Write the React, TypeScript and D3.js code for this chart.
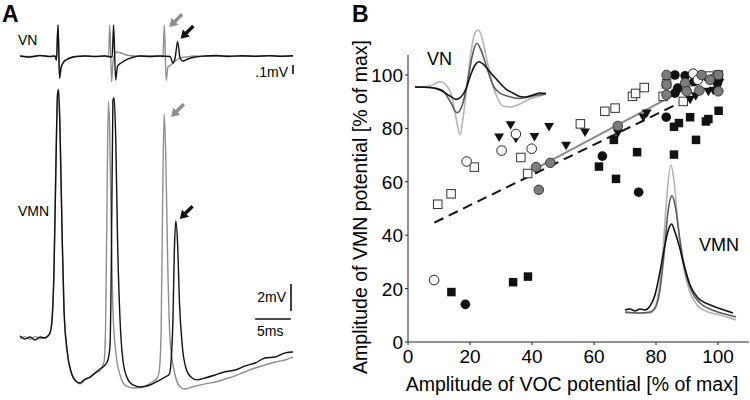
import React from "react";
import * as d3 from "d3";

// ---------- panel A traces: [time ms, value] ----------
// VN recording, values in µV
const vnBlack: [number, number][] = [
  [0, 0], [1.4, -11], [2.8, 6], [4.2, -6], [4.9, 0], [5.1, -44], [5.32, 344], [5.53, -244],
  [5.74, -133], [6.02, -78], [6.44, -44], [7.0, -22], [7.84, -6], [9.1, 0], [10.5, -6], [11.9, 0],
  [12.9, -11], [13.1, 344], [13.38, -267], [13.65, -111], [14.15, -78], [14.85, -44], [15.7, -17],
  [16.8, 0], [18.2, -6], [19.6, 0], [21.0, -6], [21.4, -78], [21.7, -22], [22.06, 159], [22.4, -22],
  [22.8, -56], [23.5, -33], [24.5, -11], [25.9, 0], [27.5, 5], [29, -5], [31, 3], [33, -4], [35, 4],
  [36.5, -3], [38.2, 2],
];
const vnGray: [number, number][] = [
  [0, 0], [1.4, -6], [2.8, 4], [4.2, -4], [4.9, 0], [5.1, -44], [5.32, 344], [5.53, -244],
  [5.74, -133], [6.02, -78], [6.44, -44], [7.0, -22], [7.84, -6], [9.1, 0], [10.5, -4], [11.9, 2],
  [12.4, -11], [12.56, 344], [12.82, -285], [13.0, -67], [13.45, 44], [14.15, 33], [14.85, 11],
  [16.1, 0], [18.2, 0], [19.6, 0], [20.0, -11], [20.2, 344], [20.45, -274], [20.7, -122], [21.1, -100],
  [21.7, -56], [22.4, -22], [23.2, -11], [24.5, 0], [27, -3], [29, 4], [31.5, -3], [34, 3], [36, -2],
  [38.2, 1],
];
// VMN recording, values in mV
const vmnBlack: [number, number][] = [
  [0, 0.15], [0.7, -0.07], [1.4, 0.07], [2.1, -0.15], [2.8, 0.07], [3.5, 0], [3.9, 0.15], [4.2, 0.37],
  [4.48, 1.33], [4.76, 5.04], [5.04, 13.2], [5.25, 18.0], [5.39, 18.4], [5.6, 15.4], [5.88, 8.0],
  [6.16, 2.07], [6.58, -0.89], [7.14, -2.5], [7.84, -3.2], [8.4, -3.33], [9.1, -3.04], [9.8, -2.9],
  [10.5, -2.6], [11.2, -2.3], [11.9, -2.0], [12.3, -1.63], [12.6, -0.52], [12.8, 6.5], [13.0, 17.6],
  [13.17, 17.8], [13.4, 14.7], [13.65, 7.26], [14.0, 1.33], [14.4, -1.63], [15.0, -2.96], [15.8, -3.48],
  [16.8, -3.63], [18.2, -3.48], [19.6, -3.1], [20.3, -2.9], [20.9, -2.67], [21.1, -2.0], [21.4, 1.33],
  [21.6, 6.5], [21.8, 8.67], [22.06, 6.9], [22.3, 2.8], [22.7, -0.52], [23.2, -2.2], [23.95, -2.9],
  [24.8, -3.1], [25.9, -2.96], [27.3, -2.74], [28.7, -2.5], [30.1, -2.37], [31.5, -2.07], [32.9, -1.85],
  [34.3, -1.48], [35.7, -1.41], [37.1, -1.1], [38.2, -1.04],
];
const vmnGray: [number, number][] = [
  [0, -0.05], [0.7, 0.1], [1.4, -0.1], [2.1, 0.1], [2.8, -0.05], [3.5, 0.05], [3.9, 0.15], [4.2, 0.37],
  [4.48, 1.33], [4.76, 5.04], [5.04, 13.2], [5.25, 18.0], [5.39, 18.4], [5.6, 15.4], [5.88, 8.0],
  [6.16, 2.07], [6.58, -0.89], [7.14, -2.5], [7.84, -3.2], [8.4, -3.4], [9.1, -3.1], [9.8, -2.9],
  [10.5, -2.6], [11.2, -2.4], [11.76, -1.78], [11.97, 0.6], [12.18, 10.2], [12.36, 17.5], [12.53, 15.8],
  [12.75, 8.74], [13.0, 2.07], [13.45, -1.26], [14.0, -2.74], [14.85, -3.56], [16.1, -3.7], [17.5, -3.56],
  [18.5, -3.26], [19.2, -2.96], [19.5, -2.37], [19.75, 0.6], [19.96, 10.2], [20.17, 16.6], [20.38, 13.9],
  [20.66, 5.8], [21.0, -0.15], [21.6, -2.5], [22.3, -3.56], [23.0, -3.78], [24.1, -3.63], [25.9, -3.4],
  [27.3, -3.26], [28.7, -3.04], [30.1, -2.8], [31.5, -2.5], [32.9, -2.22], [34.3, -2.0], [35.7, -1.78],
  [37.1, -1.63], [38.2, -1.41],
];

// ---------- panel B scatter: [VOC %, VMN %] ----------
const openSquares: [number, number][] = [
  [13.9, 55.5], [9.6, 51.6], [21.4, 65.5], [36.4, 69.1], [38.6, 63.1], [55.6, 81.7], [63.5, 86.4],
  [66.8, 87.6], [72.4, 92], [73.4, 93.1], [76.2, 95.3], [82.3, 92], [83.4, 96.7], [88.8, 90.1],
  [100.1, 100], [97, 99.6], [99, 98.5],
];
const openCircles: [number, number][] = [
  [8.4, 23.2], [18.9, 67.6], [30.2, 71.7], [34.8, 77.9], [39.9, 72.4], [92, 100.5], [93.5, 98.2],
];
const blackTriangles: [number, number][] = [
  [29.4, 77], [33.1, 81.6], [34.8, 76.6], [40.8, 77.2], [45.5, 81], [51, 73.9], [57.1, 78.9],
  [67.7, 78.6], [75.9, 84.5], [77, 86], [91, 91.2], [92.8, 92.5], [96.9, 94.2], [98.5, 94.5],
  [100.5, 97.5],
];
const blackSquares: [number, number][] = [
  [14, 18.7], [33.9, 22.4], [38.7, 24.5], [61.6, 65.7], [66.4, 75.7], [67.1, 61.1], [73.9, 71.1],
  [85.8, 80.6], [87.4, 82], [91, 84.2], [85.8, 70.2], [92.9, 75.7], [96.1, 82.6], [96.9, 83.5],
  [100.2, 86.6],
];
const blackCircles: [number, number][] = [
  [18.5, 14.1], [62.7, 69.6], [74.4, 56.1], [83.3, 84.2], [86.1, 100], [89.4, 99.7], [87, 95.1],
  [86.1, 93.2], [92.3, 97.5], [99.8, 97],
];
const grayCircles: [number, number][] = [
  [41.3, 65.5], [45.9, 67.1], [42.2, 57], [67.7, 80.9], [83.4, 100], [83.4, 96.4], [83.4, 92.6],
  [89.4, 97], [89.9, 93.9], [94, 94.2], [100.1, 93.9], [94.7, 100], [97.4, 98.2], [100.1, 100],
];
const dashedFit: [number, number][] = [[8.5, 44.7], [96, 94.3]];
const grayFit: [number, number][] = [[40.4, 64.5], [100.1, 101.4]];
const xTicks = [0, 20, 40, 60, 80, 100];
const yTicks = [0, 20, 40, 60, 80, 100];

// ---------- insets (normalised: t 0-100, amplitude % of largest) ----------
const insetVN = {
  light: [[0, 0.5], [11.4, 2.3], [18.9, 9.8], [24.2, 2.3], [28, -17], [31.1, -53.6], [34.1, -83], [36.4, -53.6],
    [39.4, 4], [42.4, 61.6], [45.5, 94.8], [48, 100], [50.8, 86], [54.5, 47.6], [58.3, 9.3], [62.1, -17],
    [66.7, -32.6], [72, -34.4], [79.5, -29], [87, -20.4], [94.7, -15.2], [99.2, -11.7]],
  dark: [[0, 0.5], [11.4, -0.3], [20.5, -4.7], [26.5, -24], [31.8, -44.3], [35.6, -32.6], [39.4, 4],
    [43.2, 52.9], [46.7, 76.8], [50, 65], [54.5, 33.7], [59.8, 0.5], [64.4, -10], [69.7, -15], [79.5, -19.5],
    [89.4, -15], [99.2, -11.7]],
  black: [[0, 0.5], [11.4, -0.3], [18.9, -4.7], [26.5, -15.2], [31.1, -21], [34.8, -17], [38.6, -3],
    [42.4, 23.2], [45.5, 39], [48.5, 44.7], [51.5, 40.7], [56.8, 26.7], [62.9, 11], [68.9, -3], [74.2, -10],
    [79.5, -16], [84, -17], [89.4, -13.4], [94.7, -10], [99.2, -10.8]],
} as Record<string, [number, number][]>;
const insetVMN = {
  light: [[0, -0.7], [13.5, -0.7], [22.5, -0.7], [27, 2.7], [30.6, 15], [34.2, 42.2], [37.8, 79.6], [41.2, 100],
    [44.1, 89.8], [47.7, 59.2], [52.3, 32], [57.7, 15], [64.9, 4.8], [74.8, 0], [85.6, -2], [94.6, -4], [100, -5.4]],
  dark: [[0, 0], [13.5, -0.7], [22.5, 0], [27.9, 4], [31.5, 15], [35.1, 38.8], [38.7, 68], [42.3, 79],
    [45.9, 69.4], [49.5, 49], [54, 28.6], [59.5, 15], [67.6, 6.1], [78.4, 1.4], [90, -1.4], [100, -3.4]],
  black: [[0, 1.4], [4.5, 2], [9, 0.7], [13.5, 2], [18, 1.4], [22.5, 4], [27, 11.6], [31.5, 27.2], [36, 45.6],
    [39.6, 57.1], [42, 59.9], [45, 54.4], [48.6, 45.6], [53.2, 32], [58.6, 18.4], [65.8, 9.5], [74.8, 5.4],
    [83.8, 2.7], [91.9, 0.7], [97.3, -0.7]],
} as Record<string, [number, number][]>;
const insetColors: Record<string, string> = { light: "#b4b4b4", dark: "#5a5a5a", black: "#111" };

const FONT = "'Liberation Sans', Arial, Helvetica, sans-serif";

function Arrow({ x, y, color }: { x: number; y: number; color: string }) {
  // tip at (x,y), tail to the upper right
  return (
    <path
      d="M0,0 L8,-5 L8,-1.7 L18,-1.7 L18,1.7 L8,1.7 L8,5 Z"
      transform={`translate(${x},${y}) rotate(-45)`}
      fill={color}
    />
  );
}

export default function App() {
  // panel A scales
  const t = d3.scaleLinear().domain([0, 38.2]).range([20, 293]);
  const vn = d3.scaleLinear().domain([0, 100]).range([56, 47]);
  const vmn = d3.scaleLinear().domain([0, 2]).range([338, 311]);
  const lineVN = d3.line<[number, number]>().x((d) => t(d[0])).y((d) => vn(d[1])).curve(d3.curveMonotoneX);
  const lineVMN = d3.line<[number, number]>().x((d) => t(d[0])).y((d) => vmn(d[1])).curve(d3.curveMonotoneX);

  // panel B scales
  const x = d3.scaleLinear().domain([0, 100]).range([408, 718]);
  const y = d3.scaleLinear().domain([0, 100]).range([342, 75]);
  const fit = d3.line<[number, number]>().x((d) => x(d[0])).y((d) => y(d[1]));

  const ivx = d3.scaleLinear().domain([0, 100]).range([415, 547]);
  const ivy = d3.scaleLinear().domain([0, 100]).range([87.3, 30]);
  const imx = d3.scaleLinear().domain([0, 100]).range([625, 736]);
  const imy = d3.scaleLinear().domain([0, 100]).range([312, 165]);
  const lineIV = d3.line<[number, number]>().x((d) => ivx(d[0])).y((d) => ivy(d[1])).curve(d3.curveMonotoneX);
  const lineIM = d3.line<[number, number]>().x((d) => imx(d[0])).y((d) => imy(d[1])).curve(d3.curveMonotoneX);

  const sq = 8.5;
  const tri = d3.symbol(d3.symbolTriangle, 42)();

  return (
    <svg width={750} height={400} style={{ position: "absolute", left: 0, top: 0, background: "#fff" }} fontFamily={FONT}>
      <rect width={750} height={400} fill="#fff" />
      {/* panel letters */}
      <text x={2} y={22} fontSize={23} fontWeight="bold">A</text>
      <text x={352} y={22} fontSize={23} fontWeight="bold">B</text>

      {/* ---- panel A ---- */}
      <text x={18} y={45} fontSize={14}>VN</text>
      <path d={lineVN(vnGray) || ""} fill="none" stroke="#8e8e8e" strokeWidth={1.4} />
      <path d={lineVN(vnBlack) || ""} fill="none" stroke="#111" strokeWidth={1.4} />
      <text x={288} y={77} fontSize={14} textAnchor="end">.1mV</text>
      <line x1={t(38.2)} x2={t(38.2)} y1={vn(-100)} y2={vn(-200)} stroke="#111" strokeWidth={1.6} />
      <Arrow x={t(20.2) + 5} y={vn(344) + 2} color="#8e8e8e" />
      <Arrow x={t(22.06) + 3} y={vn(159) - 3} color="#111" />

      <text x={18} y={216} fontSize={14}>VMN</text>
      <path d={lineVMN(vmnGray) || ""} fill="none" stroke="#8e8e8e" strokeWidth={1.4} />
      <path d={lineVMN(vmnBlack) || ""} fill="none" stroke="#111" strokeWidth={1.4} />
      <Arrow x={t(20.17) + 7} y={vmn(16.6) + 3} color="#8e8e8e" />
      <Arrow x={t(21.8) + 4} y={vmn(8.67) - 2} color="#111" />
      {/* scale bars */}
      <text x={286} y={302} fontSize={14} textAnchor="end">2mV</text>
      <line x1={291} x2={291} y1={vmn(4)} y2={vmn(2)} stroke="#111" strokeWidth={1.6} />
      <line x1={t(32.9)} x2={t(37.9)} y1={319} y2={319} stroke="#111" strokeWidth={1.6} />
      <text x={257} y={336} fontSize={14}>5ms</text>

      {/* ---- panel B ---- */}
      {/* insets */}
      {["light", "dark", "black"].map((k) => (
        <path key={"iv" + k} d={lineIV(insetVN[k]) || ""} fill="none" stroke={insetColors[k]} strokeWidth={1.6} />
      ))}
      <text x={427} y={65} fontSize={18}>VN</text>
      {["light", "dark", "black"].map((k) => (
        <path key={"im" + k} d={lineIM(insetVMN[k]) || ""} fill="none" stroke={insetColors[k]} strokeWidth={1.6} />
      ))}
      <text x={739} y={251} fontSize={18} textAnchor="end">VMN</text>

      {/* axes */}
      <line x1={x(0)} x2={x(110)} y1={y(0)} y2={y(0)} stroke="#222" strokeWidth={1} />
      <line x1={x(0)} x2={x(0)} y1={y(0)} y2={y(107.5)} stroke="#222" strokeWidth={1} />
      {xTicks.map((v) => (
        <g key={"xt" + v}>
          <line x1={x(v)} x2={x(v)} y1={y(0)} y2={y(0) + 3} stroke="#222" />
          <text x={x(v)} y={363} fontSize={19} textAnchor="middle">{v}</text>
        </g>
      ))}
      {yTicks.map((v) => (
        <g key={"yt" + v}>
          <line x1={x(0) - 3} x2={x(0)} y1={y(v)} y2={y(v)} stroke="#222" />
          <text x={x(0) - 5} y={y(v) + 7} fontSize={19} textAnchor="end">{v}</text>
        </g>
      ))}
      <text x={572} y={391} fontSize={19.5} textAnchor="middle">Amplitude of VOC potential [% of max]</text>
      <text transform="translate(367,207) rotate(-90)" fontSize={19.5} textAnchor="middle">
        Amplitude of VMN potential [% of max]
      </text>

      {/* fits */}
      <path d={fit(dashedFit) || ""} stroke="#111" strokeWidth={2} strokeDasharray="10,6" fill="none" />
      <path d={fit(grayFit) || ""} stroke="#8a8a8a" strokeWidth={2} fill="none" />

      {/* markers */}
      {blackSquares.map((d, i) => (
        <rect key={"bs" + i} x={x(d[0]) - sq / 2} y={y(d[1]) - sq / 2} width={sq} height={sq} fill="#111" />
      ))}
      {openSquares.map((d, i) => (
        <rect key={"os" + i} x={x(d[0]) - sq / 2} y={y(d[1]) - sq / 2} width={sq} height={sq} fill="#fff" stroke="#333" strokeWidth={1} />
      ))}
      {blackTriangles.map((d, i) => (
        <path key={"bt" + i} d={tri || ""} transform={`translate(${x(d[0])},${y(d[1])}) rotate(180)`} fill="#111" />
      ))}
      {blackCircles.map((d, i) => (
        <circle key={"bc" + i} cx={x(d[0])} cy={y(d[1])} r={4.8} fill="#111" />
      ))}
      {openCircles.map((d, i) => (
        <circle key={"oc" + i} cx={x(d[0])} cy={y(d[1])} r={4.8} fill="#fff" stroke="#222" strokeWidth={1} />
      ))}
      {grayCircles.map((d, i) => (
        <circle key={"gc" + i} cx={x(d[0])} cy={y(d[1])} r={4.8} fill="#7c7c7c" stroke="#222" strokeWidth={0.8} />
      ))}
    </svg>
  );
}
